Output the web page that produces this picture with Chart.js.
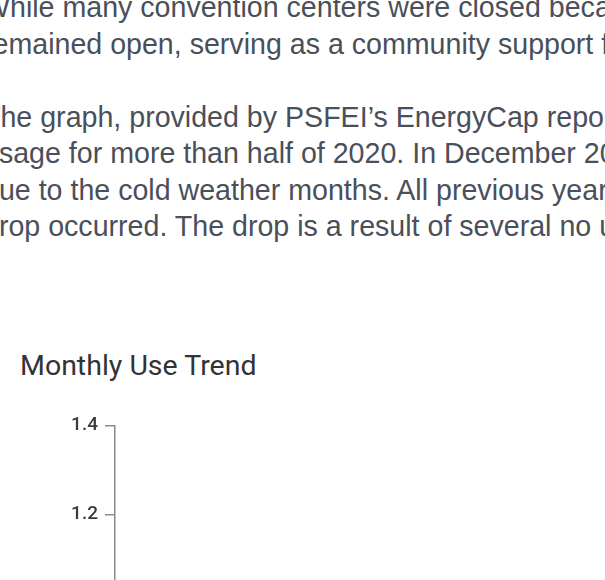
<!DOCTYPE html>
<html>
<head>
<meta charset="utf-8">
<script src="https://cdn.jsdelivr.net/npm/chart.js@4.4.1/dist/chart.umd.min.js"></script>
<style>
  html, body { margin: 0; padding: 0; width: 605px; height: 580px; overflow: hidden; background: #fff; }
  .article {
    position: absolute; left: -17px; top: -11px; width: 1000px;
    font-family: "Liberation Sans", Arial, sans-serif; font-size: 28.6px; line-height: 36.5px;
    color: #4a4f59; white-space: nowrap;
  }
  .article p { margin: 0 0 36.5px 0; }
  .title {
    position: absolute; left: 20px; top: 349px;
    font-family: Roboto, sans-serif; font-size: 28.5px; color: #333;
  }
  .chart-box { position: absolute; left: 0; top: 407px; width: 605px; height: 675px; }
</style>
</head>
<body>
<div class="article">
  <p>While many convention centers were closed because of the pandemic, the center<br>
  remained open, serving as a community support facility.</p>
  <p>The graph, provided by PSFEI’s EnergyCap reports, shows reduced energy<br>
  usage for more than half of 2020. In December 2020 usage increased<br>
  due to the cold weather months. All previous years show the same pattern until the<br>
  drop occurred. The drop is a result of several no use months.</p>
</div>
<div class="title">Monthly Use Trend</div>
<div class="chart-box"><canvas id="chart"></canvas></div>
<script>
(() => {
  "use strict";

  const months = ["Jan", "Feb", "Mar", "Apr", "May", "Jun", "Jul", "Aug", "Sep", "Oct", "Nov", "Dec"];
  const use2019 = [0.92, 0.88, 0.82, 0.74, 0.7, 0.78, 0.86, 0.88, 0.8, 0.72, 0.8, 0.9];
  const use2020 = [0.9, 0.86, 0.62, 0.38, 0.34, 0.4, 0.46, 0.5, 0.48, 0.52, 0.66, 0.96];
  const yMin = 0;
  const yMax = 1.4;
  const yStep = 0.2;

  const axisColor = "#8a8a8a";

  new Chart(document.getElementById("chart"), {
    type: "line",
    data: {
      labels: months,
      datasets: [
        { label: "2019", data: use2019, borderColor: "#9aa5b1", backgroundColor: "#9aa5b1", borderWidth: 2, pointRadius: 3 },
        { label: "2020", data: use2020, borderColor: "#2f6db5", backgroundColor: "#2f6db5", borderWidth: 2, pointRadius: 3 },
      ],
    },
    options: {
      responsive: true,
      maintainAspectRatio: false,
      animation: false,
      layout: { padding: { top: 12, right: 20 } },
      plugins: { legend: { display: false }, tooltip: { enabled: false } },
      scales: {
        x: {
          grid: { display: false },
          border: { color: axisColor, width: 1.5 },
          ticks: { color: "#555", font: { family: "Roboto", size: 16 } },
        },
        y: {
          min: yMin,
          max: yMax,
          ticks: {
            stepSize: yStep,
            color: "#3a3a3a",
            padding: 7,
            font: { family: "Roboto", size: 19, weight: "500" },
          },
          grid: { drawOnChartArea: false, tickLength: 10, color: axisColor, tickColor: axisColor, lineWidth: 1.5 },
          border: { color: axisColor, width: 1.5 },
          afterFit: (s) => { s.width = 115; },
        },
      },
    },
  });
})();
</script>
</body>
</html>
